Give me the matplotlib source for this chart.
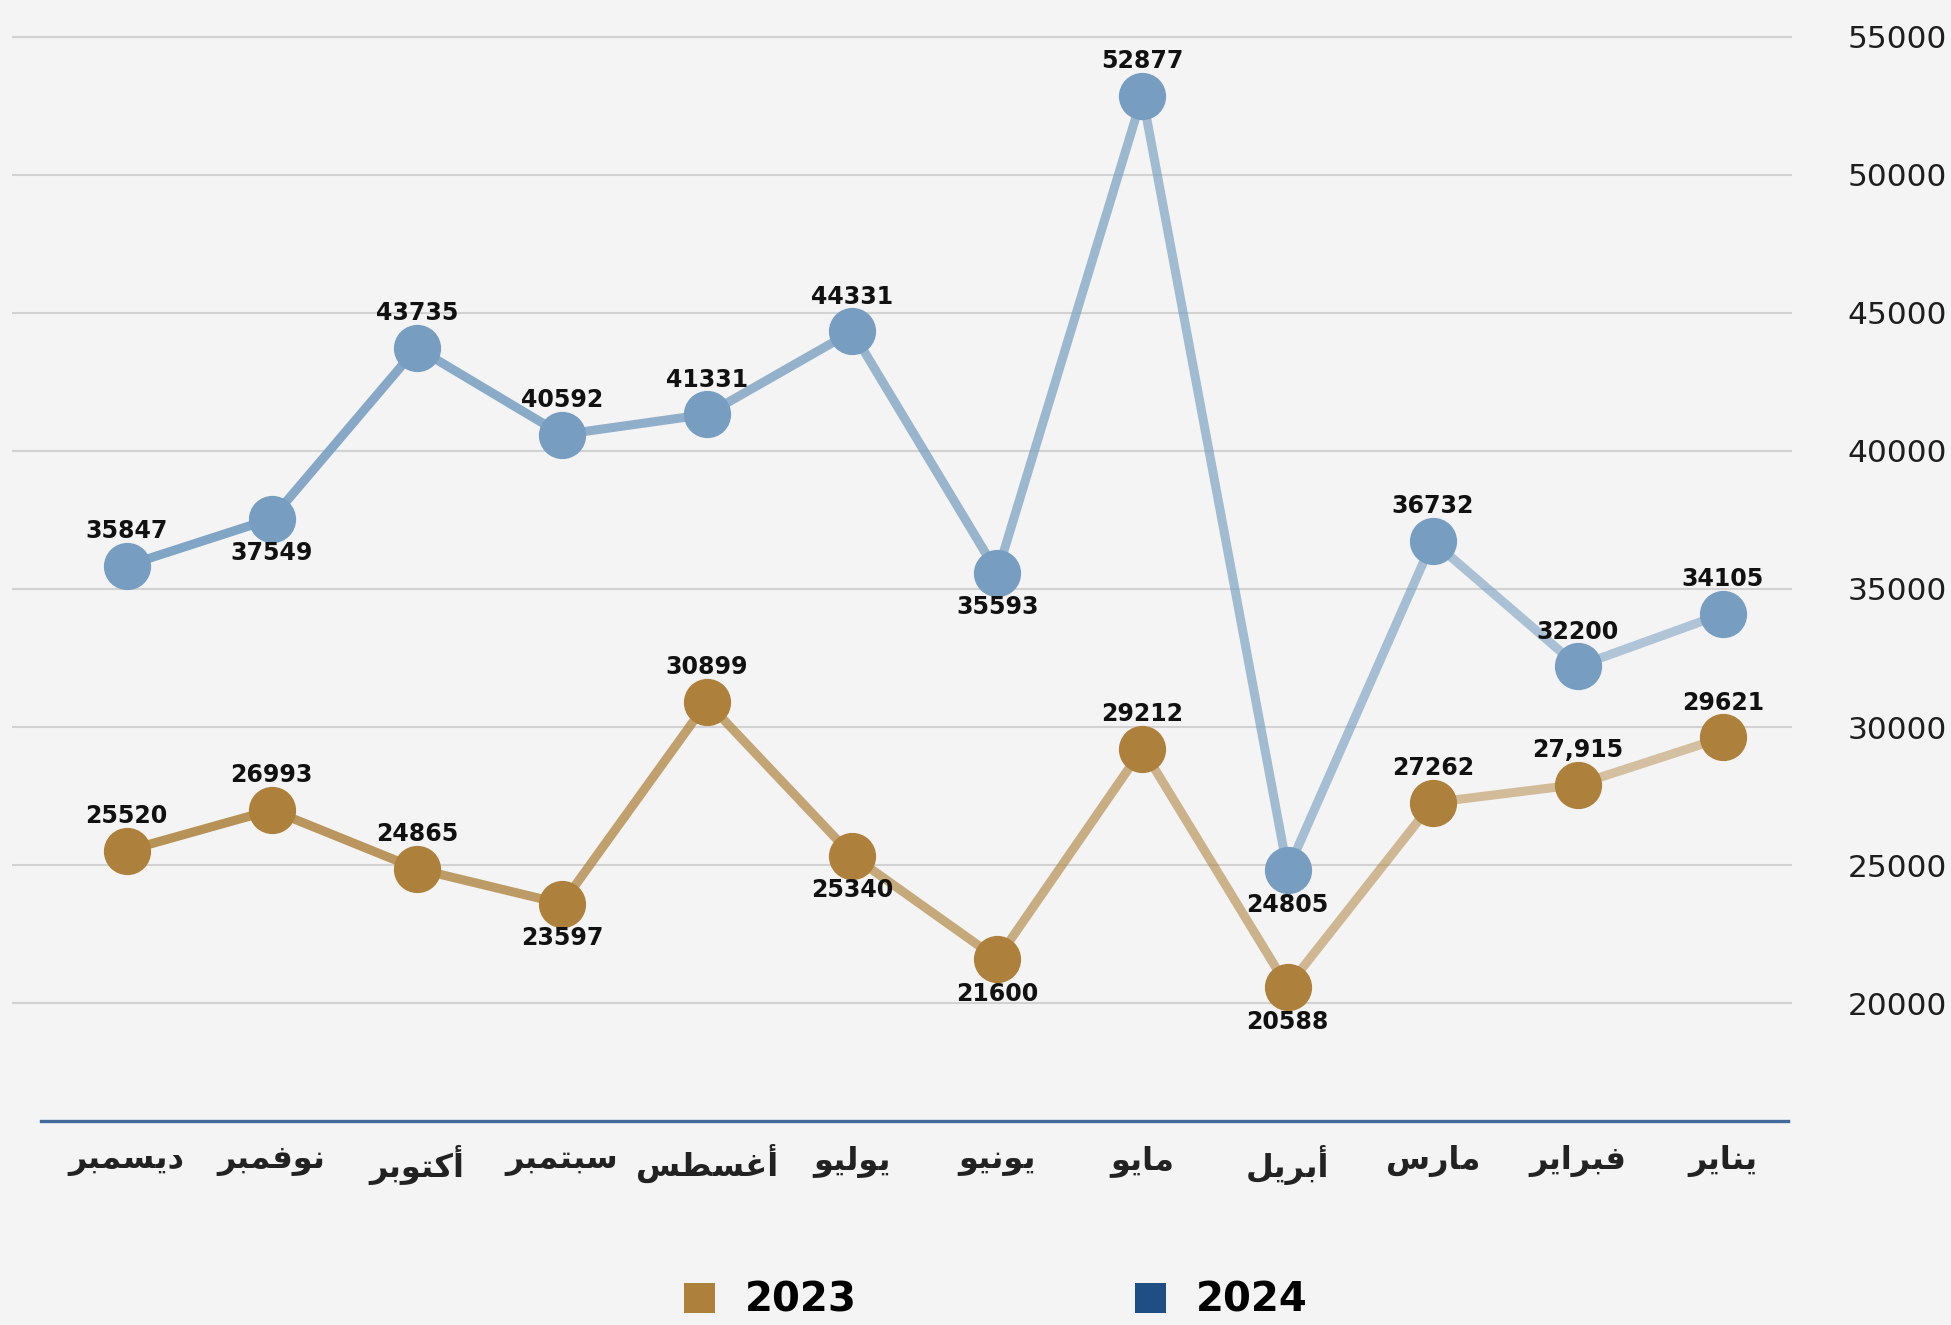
import matplotlib
matplotlib.use("Agg")
import matplotlib.pyplot as plt
import numpy as np
from matplotlib.collections import LineCollection
from matplotlib.patches import Patch
from matplotlib.colors import to_rgba

# ---------------- data (left to right as displayed: Dec -> Jan) ----------------
months = ["ديسمبر", "نوفمبر", "أكتوبر", "سبتمبر", "أغسطس", "يوليو",
          "يونيو", "مايو", "أبريل", "مارس", "فبراير", "يناير"]
values_2024 = [35847, 37549, 43735, 40592, 41331, 44331, 35593, 52877, 24805, 36732, 32200, 34105]
values_2023 = [25520, 26993, 24865, 23597, 30899, 25340, 21600, 29212, 20588, 27262, 27915, 29621]
labels_2024 = ["35847", "37549", "43735", "40592", "41331", "44331", "35593", "52877", "24805", "36732", "32200", "34105"]
labels_2023 = ["25520", "26993", "24865", "23597", "30899", "25340", "21600", "29212", "20588", "27262", "27,915", "29621"]
# label placement: +1 above point, -1 below
pos_2024 = [1, -1, 1, 1, 1, 1, -1, 1, -1, 1, 1, 1]
pos_2023 = [1, 1, 1, -1, 1, -1, -1, 1, -1, 1, 1, 1]
yticks = [20000, 25000, 30000, 35000, 40000, 45000, 50000, 55000]
series_names = ["2023", "2024"]

# ---------------- minimal Arabic shaping (presentation forms) ----------------
FORMS = {
    '\u0627': ('\uFE8D', '\uFE8E', None, None),
    '\u0623': ('\uFE83', '\uFE84', None, None),
    '\u0628': ('\uFE8F', '\uFE90', '\uFE91', '\uFE92'),
    '\u062A': ('\uFE95', '\uFE96', '\uFE97', '\uFE98'),
    '\u062F': ('\uFEA9', '\uFEAA', None, None),
    '\u0631': ('\uFEAD', '\uFEAE', None, None),
    '\u0633': ('\uFEB1', '\uFEB2', '\uFEB3', '\uFEB4'),
    '\u0637': ('\uFEC1', '\uFEC2', '\uFEC3', '\uFEC4'),
    '\u063A': ('\uFECD', '\uFECE', '\uFECF', '\uFED0'),
    '\u0641': ('\uFED1', '\uFED2', '\uFED3', '\uFED4'),
    '\u0643': ('\uFED9', '\uFEDA', '\uFEDB', '\uFEDC'),
    '\u0644': ('\uFEDD', '\uFEDE', '\uFEDF', '\uFEE0'),
    '\u0645': ('\uFEE1', '\uFEE2', '\uFEE3', '\uFEE4'),
    '\u0646': ('\uFEE5', '\uFEE6', '\uFEE7', '\uFEE8'),
    '\u0648': ('\uFEED', '\uFEEE', None, None),
    '\u064A': ('\uFEF1', '\uFEF2', '\uFEF3', '\uFEF4'),
}


def shape(word):
    out = []
    n = len(word)
    for i, c in enumerate(word):
        if c not in FORMS:
            out.append(c)
            continue
        prev = word[i - 1] if i > 0 else None
        nxt = word[i + 1] if i < n - 1 else None
        jp = prev in FORMS and FORMS[prev][2] is not None
        jn = nxt in FORMS and FORMS[c][2] is not None
        f = FORMS[c]
        if jp and jn:
            out.append(f[3])
        elif jp:
            out.append(f[1])
        elif jn:
            out.append(f[2])
        else:
            out.append(f[0])
    return "".join(out[::-1])


# ---------------- figure ----------------
W, H = 1951, 1325
fig = plt.figure(figsize=(W / 100, H / 100), dpi=100)
bg = "#f4f4f4"
fig.patch.set_facecolor(bg)

ax_left, ax_right, ax_top, ax_bottom = 12, 1792, 0, 1121
ax = fig.add_axes([ax_left / W, 1 - ax_bottom / H, (ax_right - ax_left) / W, (ax_bottom - ax_top) / H])
ax.set_facecolor(bg)

x = np.arange(len(months))
ax.set_xlim(-0.79, 11.476)
ax.set_ylim(15725, 56340)

# grid
ax.set_yticks(yticks)
ax.yaxis.grid(True, color="#d2d2d2", lw=1.5)
ax.set_axisbelow(True)
for s in ["top", "left", "right"]:
    ax.spines[s].set_visible(False)
ax.spines["bottom"].set_color("#41699a")
ax.spines["bottom"].set_linewidth(2.4)
ax.spines["bottom"].set_bounds(-0.593, 11.45)

# y tick labels on right, right-aligned at figure edge
ax.yaxis.tick_right()
ax.tick_params(axis="y", length=0, pad=(1947 - ax_right) * 0.72, labelsize=22.5, labelcolor="#1e1e1e")
ax.set_yticklabels([str(v) for v in yticks])
for t in ax.get_yticklabels():
    t.set_horizontalalignment("right")

ax.set_xticks(x)
ax.set_xticklabels([shape(m) for m in months], fontsize=23, fontweight="bold", color="#222222")
ax.tick_params(axis="x", length=0, pad=17)


def gradient_line(xs, ys, color, a0, a1, lw):
    pts = np.column_stack([xs, ys])
    segs = [pts[i:i + 2] for i in range(len(pts) - 1)]
    alphas = np.linspace(a0, a1, len(segs))
    cols = [to_rgba(color, a) for a in alphas]
    lc = LineCollection(segs, colors=cols, linewidths=lw, capstyle="round", zorder=2)
    ax.add_collection(lc)


blue = "#779ec0"
gold = "#ad813b"
gradient_line(x, values_2023, gold, 0.85, 0.45, 6.5)
gradient_line(x, values_2024, blue, 0.92, 0.55, 6.5)
ax.plot(x, values_2023, ls="none", marker="o", ms=33, color=gold, zorder=3)
ax.plot(x, values_2024, ls="none", marker="o", ms=33, color=blue, zorder=3)

for xi, v, lab, p in zip(x, values_2024, labels_2024, pos_2024):
    ax.annotate(lab, (xi, v), xytext=(0, 25 * p), textcoords="offset points",
                ha="center", va="center", fontsize=17, fontweight="bold", color="#111111", zorder=4)
for xi, v, lab, p in zip(x, values_2023, labels_2023, pos_2023):
    ax.annotate(lab, (xi, v), xytext=(0, 25 * p), textcoords="offset points",
                ha="center", va="center", fontsize=17, fontweight="bold", color="#111111", zorder=4)

# legend
handles = [Patch(facecolor=gold, edgecolor="none"), Patch(facecolor="#1f4e85", edgecolor="none")]
fig.legend(handles, series_names, loc="center left", bbox_to_anchor=(684 / W, 1 - 1301 / H),
           ncol=2, frameon=False, borderpad=0, borderaxespad=0,
           prop={"size": 29, "weight": "bold"}, handlelength=0.77, handleheight=0.77,
           handletextpad=0.75, columnspacing=6.9)

fig.savefig("out.png", dpi=100, facecolor=bg)
